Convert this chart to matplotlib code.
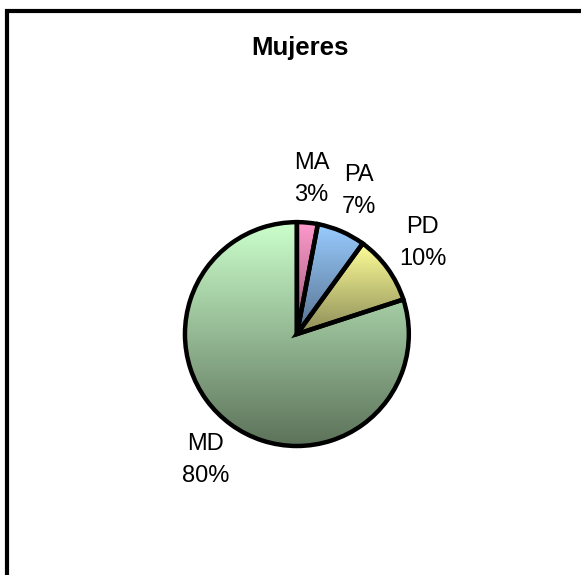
import numpy as np
import matplotlib.pyplot as plt
from matplotlib.colors import LinearSegmentedColormap
from matplotlib.patches import Rectangle

plt.rcParams['font.family'] = ['Liberation Sans', 'DejaVu Sans']

titulo = 'Mujeres'
categorias = ['MA', 'PA', 'PD', 'MD']
porcentajes = [3, 7, 10, 80]
color_claro = ['#ff99cc', '#99ccff', '#ffff99', '#ccffcc']
color_oscuro = ['#9a5a78', '#56708e', '#8c8c58', '#5c725a']

fig = plt.figure(figsize=(5.81, 5.75), dpi=100)

# marco alrededor del grafico (cortado a la derecha y abajo)
fig.patches.append(Rectangle((7 / 581, -0.05), 1.1, 1.031, transform=fig.transFigure,
                             fill=False, edgecolor='black', linewidth=3.0, zorder=0))

fig.text(0.517, 0.916, titulo, ha='center', va='center', fontsize=18.5, fontweight='bold')

ax = fig.add_axes([0.222, 0.127, 0.578, 0.584])
etiquetas = [f'{c}\n{p}%' for c, p in zip(categorias, porcentajes)]
wedges, textos = ax.pie(porcentajes, labels=etiquetas, startangle=90, counterclock=False,
                        labeldistance=1.39,
                        wedgeprops=dict(facecolor='none', edgecolor='black', linewidth=3.2),
                        textprops=dict(fontsize=17, ha='center', va='center', linespacing=1.6))
for t in textos:
    t.set_ha('center')
    t.set_va('center')

ax.set_xlim(-1.5, 1.5)
ax.set_ylim(-1.5, 1.5)
ax.set_aspect('equal')

# relleno con degradado vertical para cada porcion
grad = np.linspace(0, 1, 256).reshape(-1, 1)
for w, c1, c2 in zip(wedges, color_claro, color_oscuro):
    fig.canvas.draw()
    bb = w.get_path().get_extents(w.get_patch_transform())
    cmap = LinearSegmentedColormap.from_list('g', [c1, c2])
    im = ax.imshow(grad, cmap=cmap, extent=[bb.x0, bb.x1, bb.y0, bb.y1],
                   origin='upper', aspect='auto', zorder=0.5)
    im.set_clip_path(w)

ax.set_xlim(-1.5, 1.5)
ax.set_ylim(-1.5, 1.5)
ax.axis('off')

plt.savefig('out.png', dpi=100)
